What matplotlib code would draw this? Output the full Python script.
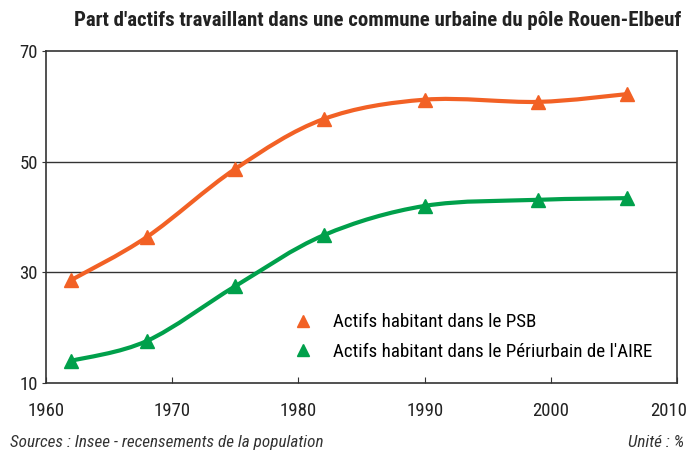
import numpy as np
import matplotlib
matplotlib.use("Agg")
import matplotlib.pyplot as plt
from matplotlib.path import Path
from matplotlib.patches import PathPatch
from matplotlib.lines import Line2D
from matplotlib import font_manager
import matplotlib.transforms as mtransforms

years = [1962, 1968, 1975, 1982, 1990, 1999, 2006]
psb = [28.6, 36.4, 48.7, 57.7, 61.2, 60.8, 62.2]
peri = [14.0, 17.6, 27.5, 36.7, 42.0, 43.1, 43.4]
labels = ["Actifs habitant dans le PSB", "Actifs habitant dans le Périurbain de l'AIRE"]
colors = ["#F26125", "#00A04B"]
xticks = [1960, 1970, 1980, 1990, 2000, 2010]
yticks = [10, 30, 50, 70]

names = {f.name for f in font_manager.fontManager.ttflist}
cands = ["Liberation Sans Narrow", "Roboto Condensed", "DejaVu Sans Condensed", "Open Sans Condensed"]
FONT = [n for n in cands if n in names] + ["DejaVu Sans"]
plt.rcParams['font.family'] = FONT
plt.rcParams['font.stretch'] = 'condensed'

fig = plt.figure(figsize=(6.91, 4.5), dpi=100)
ax = fig.add_axes([0.0666, 0.149, 0.9134, 0.7377])


def smooth_path(x, y, t=0.5):
    x = np.asarray(x, float); y = np.asarray(y, float)
    verts = [(x[0], y[0])]
    codes = [Path.MOVETO]
    n = len(x)
    for i in range(n - 1):
        x0, y0 = (x[i - 1], y[i - 1]) if i > 0 else (x[i], y[i])
        x3, y3 = (x[i + 2], y[i + 2]) if i + 2 < n else (x[i + 1], y[i + 1])
        x1, y1 = x[i], y[i]
        x2, y2 = x[i + 1], y[i + 1]
        c1 = (x1 + (x2 - x0) * t / 3, y1 + (y2 - y0) * t / 3)
        c2 = (x2 - (x3 - x1) * t / 3, y2 - (y3 - y1) * t / 3)
        verts += [c1, c2, (x2, y2)]
        codes += [Path.CURVE4] * 3
    return Path(verts, codes)


for ser, c in zip([psb, peri], colors):
    ax.add_patch(PathPatch(smooth_path(years, ser, 0.5), fill=False, edgecolor=c, lw=3, zorder=3,
                           capstyle='round', joinstyle='round'))
    ax.plot(years, ser, linestyle='none', marker='^', ms=10, color=c, zorder=4)

ax.set_xlim(1960, 2010)
ax.set_ylim(10, 70)
ax.set_xticks(xticks)
ax.set_yticks(yticks)
for v in [30, 50]:
    ax.axhline(v, color='#333333', lw=1.0, zorder=1)
for s in ax.spines.values():
    s.set_color('#333333'); s.set_linewidth(1.2)
ax.tick_params(axis='x', direction='in', length=4, pad=14, labelsize=13.5, colors='#333333', labelcolor='#222222')
ax.tick_params(axis='y', direction='out', length=3, pad=3, labelsize=13.5, colors='#333333', labelcolor='#222222')
for lab in ax.get_xticklabels() + ax.get_yticklabels():
    lab.set_fontstretch('condensed')
last = ax.get_xticklabels()[-1]
last.set_transform(last.get_transform() + mtransforms.ScaledTranslation(-9 / 100, 0, fig.dpi_scale_trans))

handles = [Line2D([], [], linestyle='none', marker='^', ms=8, color=c) for c in colors]
leg = ax.legend(handles, labels, loc='lower left', bbox_to_anchor=(0.365, 0.015), frameon=False,
                fontsize=13.7, handletextpad=1.1, labelspacing=0.6, handlelength=1.0)
for t in leg.get_texts():
    t.set_fontstretch('condensed')

fig.text(0.547, 0.955, "Part d'actifs travaillant dans une commune urbaine du pôle Rouen-Elbeuf",
         ha='center', va='center', fontsize=15, fontweight='bold', color='#222222', fontstretch='condensed')
fig.text(0.014, 0.016, "Sources : Insee - recensements de la population", ha='left', va='center',
         fontsize=12.3, style='italic', color='#333333', fontstretch='condensed')
fig.text(0.99, 0.016, "Unité : %", ha='right', va='center', fontsize=12.3, style='italic', color='#333333',
         fontstretch='condensed')

fig.savefig("out.png", dpi=100)
